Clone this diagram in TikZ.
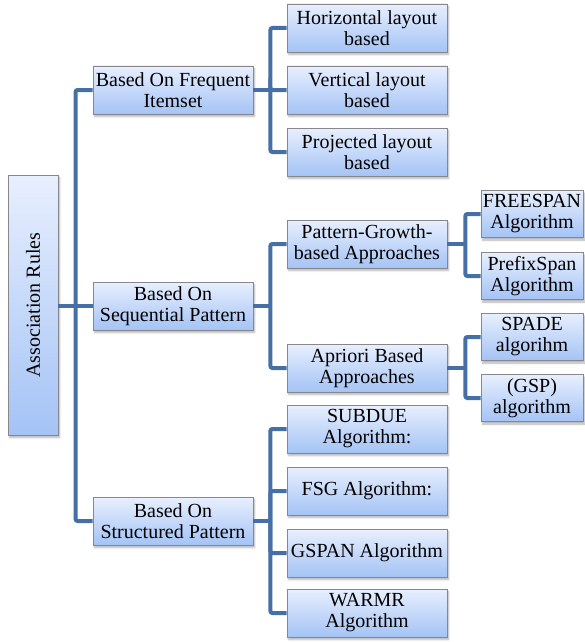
\documentclass[tikz,border=0pt]{standalone}
\usepackage{fontspec}
\setmainfont{Liberation Serif}
\usetikzlibrary{shadows.blur}

\definecolor{linkblue}{RGB}{70,111,166}
\definecolor{boxtop}{RGB}{232,239,254}
\definecolor{boxbot}{RGB}{164,195,245}
\definecolor{boxline}{RGB}{135,135,140}

\tikzset{
  box/.style={draw=boxline, line width=0.8pt, top color=boxtop, bottom color=boxbot,
    align=center, inner sep=0pt, font=\fontsize{20}{21}\selectfont,
    blur shadow={shadow xshift=1.5pt, shadow yshift=-2.5pt, shadow blur steps=6, shadow opacity=30}},
  catbox/.style={box, minimum width=160pt, minimum height=48pt},
  subbox/.style={box, minimum width=160pt, minimum height=48pt},
  algbox/.style={box, minimum width=102pt, minimum height=47pt},
  link/.style={draw=linkblue, line width=4pt, rounded corners=2pt},
}

\begin{document}
\begin{tikzpicture}[x=1pt,y=-1pt]
\useasboundingbox (0,0) rectangle (584,642);

% root
\node[box, minimum width=50pt, minimum height=260pt] (root) at (33,305) {\rotatebox{90}{Association Rules}};

% first level
\node[catbox] (freq) at (173,90) {Based On Frequent\\Itemset};
\node[catbox] (seq) at (173,306) {Based On\\Sequential Pattern};
\node[catbox] (struc) at (173,521) {Based On\\Structured Pattern};

% second level
\node[subbox] (horiz) at (367,28) {Horizontal layout\\based};
\node[subbox] (vert) at (367,90) {Vertical layout\\based};
\node[subbox] (proj) at (367,152) {Projected layout\\based};
\node[subbox] (pgrowth) at (367,244) {Pattern-Growth-\\based Approaches};
\node[subbox] (apriori) at (367,368) {Apriori Based\\Approaches};
\node[subbox] (subdue) at (367,429) {SUBDUE\\Algorithm:};
\node[subbox] (fsg) at (367,491) {FSG Algorithm:};
\node[subbox] (gspan) at (367,553) {GSPAN Algorithm};
\node[subbox] (warmr) at (367,613) {WARMR\\Algorithm};

% third level
\node[algbox] (freespan) at (532,214) {FREESPAN\\Algorithm};
\node[algbox] (prefix) at (532,276) {PrefixSpan\\Algorithm};
\node[algbox] (spade) at (532,337) {SPADE\\algorihm};
\node[algbox] (gsp) at (532,398) {(GSP)\\algorithm};

% connectors
\draw[link] (root.east |- seq) -- (seq.west);
\draw[link] (freq.west) -- ++(-17,0) |- (struc.west);

\draw[link] (freq.east) -- ++(17,0) coordinate (fj);
\foreach \n in {horiz,vert,proj} \draw[link] (fj) |- (\n.west);

\draw[link] (seq.east) -- ++(17,0) coordinate (sj);
\foreach \n in {pgrowth,apriori} \draw[link] (sj) |- (\n.west);

\draw[link] (struc.east) -- ++(17,0) coordinate (tj);
\foreach \n in {subdue,fsg,gspan,warmr} \draw[link] (tj) |- (\n.west);

\draw[link] (pgrowth.east) -- ++(18,0) coordinate (pj);
\foreach \n in {freespan,prefix} \draw[link] (pj) |- (\n.west);

\draw[link] (apriori.east) -- ++(18,0) coordinate (aj);
\foreach \n in {spade,gsp} \draw[link] (aj) |- (\n.west);

\end{tikzpicture}
\end{document}
